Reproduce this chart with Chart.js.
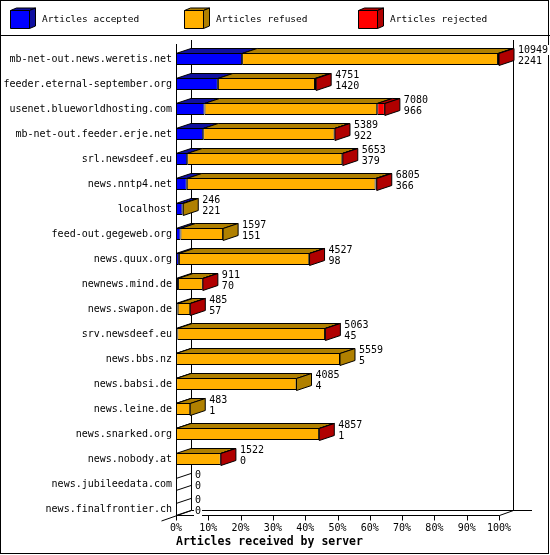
<!DOCTYPE html>
<html>
<head>
<meta charset="utf-8">
<script src="https://cdn.jsdelivr.net/npm/chart.js@4/dist/chart.umd.min.js"></script>
<style>
  html, body { margin: 0; padding: 0; background: #fff; }
  canvas { display: block; }
</style>
</head>
<body>
<canvas id="chart" width="550" height="555"></canvas>
<script>
const hosts = [
  "mb-net-out.news.weretis.net", "feeder.eternal-september.org", "usenet.blueworldhosting.com",
  "mb-net-out.feeder.erje.net", "srl.newsdeef.eu", "news.nntp4.net", "localhost",
  "feed-out.gegeweb.org", "news.quux.org", "newnews.mind.de", "news.swapon.de",
  "srv.newsdeef.eu", "news.bbs.nz", "news.babsi.de", "news.leine.de",
  "news.snarked.org", "news.nobody.at", "news.jubileedata.com", "news.finalfrontier.ch",
];
const totals   = [10949, 4751, 7080, 5389, 5653, 6805, 246, 1597, 4527, 911, 485, 5063, 5559, 4085, 483, 4857, 1522, 0, 0];
const accepted = [2241, 1420, 966, 922, 379, 366, 221, 151, 98, 70, 57, 45, 5, 4, 1, 1, 0, 0, 0];
const refused  = [8673, 3291, 5854, 4452, 5259, 6399, 25, 1446, 4419, 836, 425, 5008, 5554, 4081, 482, 4851, 1517, 0, 0];
const rejected = [35, 40, 260, 15, 15, 40, 0, 0, 10, 5, 3, 10, 0, 0, 0, 5, 5, 0, 0];
const seriesNames = ["Articles accepted", "Articles refused", "Articles rejected"];
const tickPercents = [0, 10, 20, 30, 40, 50, 60, 70, 80, 90, 100];

const FRONT = ["#0000ff", "#ffb000", "#ff0000"];
const DARK = ["#1010a0", "#b08000", "#b00000"];
const MONO = "'DejaVu Sans Mono', monospace";
const DX = 15, DY = 5; // 3d depth
const maxTotal = Math.max(...totals);

/* ---------- helpers ---------- */

function poly(ctx, pts, fill) {
  ctx.beginPath();
  ctx.moveTo(pts[0][0], pts[0][1]);
  pts.slice(1).forEach((p) => ctx.lineTo(p[0], p[1]));
  ctx.closePath();
  if (fill) { ctx.fillStyle = fill; ctx.fill(); }
  ctx.strokeStyle = "#000";
  ctx.lineWidth = 1;
  ctx.stroke();
}

function line(ctx, x1, y1, x2, y2) {
  ctx.beginPath();
  ctx.moveTo(x1, y1);
  ctx.lineTo(x2, y2);
  ctx.stroke();
}

/* ---------- plugin: frame, legend, 3d faces ---------- */

const frame3d = {
  id: "frame3d",
  beforeDraw(chart) {
    const ctx = chart.ctx;
    ctx.save();
    ctx.fillStyle = "#fff";
    ctx.fillRect(0, 0, chart.width, chart.height);
    ctx.strokeStyle = "#000";
    ctx.lineWidth = 1;
    ctx.strokeRect(0.5, 0.5, 548, 553);
    line(ctx, 0, 35.5, 550, 35.5);

    // legend cubes
    const lx = [10, 184, 358];
    ctx.font = "9.5px " + MONO;
    ctx.textBaseline = "middle";
    seriesNames.forEach((name, i) => {
      const x = lx[i] + 0.5, y = 10.5, w = 19, h = 18, d = 6, e = 2.5;
      poly(ctx, [[x, y], [x + w, y], [x + w + d, y - e], [x + d, y - e]], DARK[i]);
      poly(ctx, [[x + w, y], [x + w + d, y - e], [x + w + d, y + h - e], [x + w, y + h]], DARK[i]);
      poly(ctx, [[x, y], [x + w, y], [x + w, y + h], [x, y + h]], FRONT[i]);
      ctx.fillStyle = "#000";
      ctx.fillText(name, lx[i] + 32, 20);
    });
    ctx.restore();
  },
  beforeDatasetsDraw(chart) {
    const ctx = chart.ctx;
    const xs = chart.scales.x;
    const x0 = Math.round(xs.getPixelForValue(0)) + 0.5;
    const x1 = Math.round(xs.getPixelForValue(maxTotal)) + 0.5;
    const floor = 515.5;
    ctx.save();
    ctx.strokeStyle = "#000";
    ctx.lineWidth = 1;
    // walls
    line(ctx, x0, 44, x0, floor);
    line(ctx, x0 + DX, 40, x0 + DX, floor - DY);
    line(ctx, x1 + DX - 1, 40, x1 + DX - 1, floor - DY);
    // floor
    line(ctx, x0, floor, x1, floor);
    line(ctx, x0 + DX, floor - DY, 532, floor - DY);
    line(ctx, x0 - DX, floor + DY + 0.5, x0 + DX, floor - DY);
    line(ctx, x1, floor, x1 + DX - 1, floor - DY);
    // tick marks
    xs.ticks.forEach((t) => {
      const px = Math.round(xs.getPixelForValue(t.value)) + 0.5;
      line(ctx, px, floor, px, floor + 5);
    });
    ctx.restore();
  },
  afterDatasetsDraw(chart) {
    const ctx = chart.ctx;
    const metas = [0, 1, 2].map((i) => chart.getDatasetMeta(i));
    const values = [accepted, refused, rejected];
    const zeroPx = chart.scales.x.getPixelForValue(0);
    ctx.save();
    hosts.forEach((host, j) => {
      const ref = metas[0].data[j];
      const top = Math.round(ref.y - ref.height / 2) + 0.5;
      const bottom = top + ref.height;
      let end = zeroPx, last = -1;
      values.forEach((vals, i) => {
        const el = metas[i].data[j];
        if (vals[j] > 0) {
          const s = el.base, e = el.x;
          poly(ctx, [[s, top], [e, top], [e + DX, top - DY], [s + DX, top - DY]], DARK[i]);
          end = e;
          last = i;
        }
      });
      if (last < 0) {
        line(ctx, end, top, end + DX, top - DY);
        line(ctx, end, bottom, end + DX, bottom - DY);
      } else {
        poly(ctx, [[end, top], [end + DX, top - DY], [end + DX, bottom - DY], [end, bottom]], DARK[last]);
      }
      // value labels
      ctx.font = "10px " + MONO;
      ctx.textBaseline = "middle";
      const tx = end + DX + 4;
      const cy = ref.y;
      [String(totals[j]), String(accepted[j])].forEach((txt, k) => {
        const ty = cy - 9 + k * 11;
        ctx.fillStyle = "#fff";
        ctx.fillRect(tx - 1, ty - 5, ctx.measureText(txt).width + 2, 10);
        ctx.fillStyle = "#000";
        ctx.fillText(txt, tx, ty);
      });
    });
    ctx.restore();
  },
};

/* ---------- chart ---------- */

new Chart(document.getElementById("chart"), {
  type: "bar",
  data: {
    labels: hosts,
    datasets: [accepted, refused, rejected].map((vals, i) => ({
      label: seriesNames[i],
      data: vals,
      backgroundColor: FRONT[i],
      borderColor: "#000",
      borderWidth: 1,
      borderSkipped: false,
      barThickness: 12,
      inflateAmount: 0,
    })),
  },
  options: {
    indexAxis: "y",
    responsive: false,
    devicePixelRatio: 1,
    animation: false,
    layout: { padding: { top: 46.5, right: 51, left: 0, bottom: 0 } },
    plugins: { legend: { display: false }, tooltip: { enabled: false } },
    scales: {
      x: {
        stacked: true,
        min: 0,
        max: maxTotal,
        afterBuildTicks: (s) => { s.ticks = tickPercents.map((p) => ({ value: p * maxTotal / 100 })); },
        afterFit: (s) => { s.height = 33.5; },
        grid: { display: false, drawTicks: false },
        border: { display: false },
        ticks: {
          autoSkip: false,
          maxRotation: 0,
          padding: 1,
          color: "#000",
          font: { family: MONO, size: 10 },
          callback: (v) => Math.round(v / maxTotal * 100) + "%",
        },
        title: {
          display: true,
          text: "Articles received by server",
          align: "start",
          color: "#000",
          font: { family: MONO, size: 11.5, weight: "bold" },
          padding: { top: 0, bottom: 6 },
        },
      },
      y: {
        stacked: true,
        afterFit: (s) => { s.width = 176; },
        grid: { display: false, drawTicks: false },
        border: { display: false },
        ticks: {
          autoSkip: false,
          padding: 4,
          color: "#000",
          font: { family: MONO, size: 10 },
        },
      },
    },
  },
  plugins: [frame3d],
});
</script>
</body>
</html>
